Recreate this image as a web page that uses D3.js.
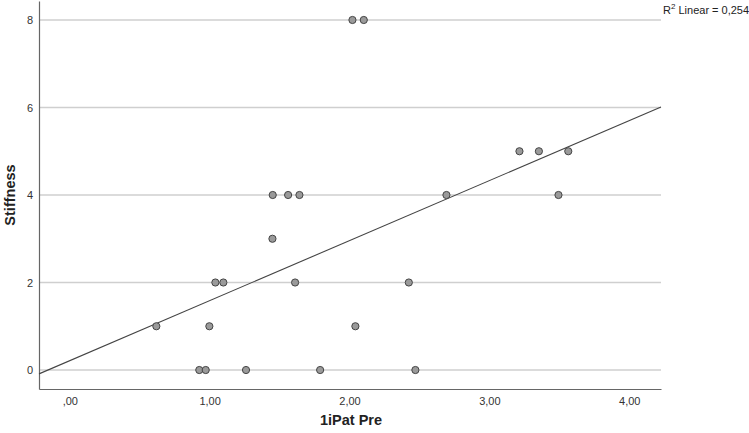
<!DOCTYPE html>
<html><head><meta charset="utf-8">
<script src="https://cdn.jsdelivr.net/npm/d3@7"></script>
<style>body{margin:0;background:#fff}svg{display:block}</style>
</head><body><svg id="c" width="749" height="433"></svg>
<script>
const xVals = [0.619,0.926,0.972,0.998,1.041,1.098,1.260,1.449,1.451,1.561,1.611,1.642,1.790,2.021,2.042,2.102,2.424,2.471,2.693,3.215,3.354,3.494,3.564];
const yVals = [1,0,0,1,2,2,0,3,4,4,2,4,0,8,1,8,2,0,4,5,5,4,5];
const xTicks = [0,1,2,3,4];
const yTicks = [0,2,4,6,8];
const xTitle = "1iPat Pre", yTitle = "Stiffness", r2Label = "Linear = 0,254";

const svg = d3.select("#c");
const L=39, R=661, T=1, B=389;
const x = d3.scaleLinear().domain([-0.22,4.227]).range([L,R]);
const y = d3.scaleLinear().domain([-0.434,8.434]).range([B,T]);
const fmt = v => d3.format(".2f")(v).replace(/^0/, "").replace(".", ",");
const font = "'Liberation Sans', Arial, sans-serif";

// gridlines
svg.append("g").selectAll("line").data(yTicks).join("line")
  .attr("x1",L).attr("x2",R).attr("y1",d=>y(d)).attr("y2",d=>y(d))
  .attr("stroke","#cfcfcf").attr("stroke-width",1.5);

// axes
const ya = svg.append("g").attr("transform",`translate(${L},0)`).call(d3.axisLeft(y).tickValues(yTicks).tickSize(0).tickPadding(6));
const xa = svg.append("g").attr("transform",`translate(0,${B})`).call(d3.axisBottom(x).tickValues(xTicks).tickFormat(fmt).tickSize(0).tickPadding(8));
[ya,xa].forEach(a=>{a.select(".domain").attr("stroke","#666").attr("stroke-width",1.2);
  a.selectAll("text").attr("font-family",font).attr("font-size",11).attr("fill","#333");});

// regression
const mx=d3.mean(xVals), my=d3.mean(yVals);
let sxy=0,sxx=0; xVals.forEach((v,i)=>{sxy+=(v-mx)*(yVals[i]-my);sxx+=(v-mx)*(v-mx);});
const b=sxy/sxx, a=my-b*mx;
const x0=x.domain()[0], x1=x.domain()[1];
svg.append("line").attr("x1",x(x0)).attr("y1",y(a+b*x0)).attr("x2",x(x1)).attr("y2",y(a+b*x1))
  .attr("stroke","#444").attr("stroke-width",1.1);

// points
svg.append("g").selectAll("circle").data(xVals.map((v,i)=>[v,yVals[i]])).join("circle")
  .attr("cx",d=>x(d[0])).attr("cy",d=>y(d[1])).attr("r",3.6)
  .attr("fill","#9a9a9a").attr("stroke","#444").attr("stroke-width",1);

// titles
svg.append("text").attr("x",351).attr("y",425).attr("text-anchor","middle")
  .attr("font-family",font).attr("font-size",14.5).attr("font-weight","bold").attr("fill","#222").text(xTitle);
svg.append("text").attr("transform",`translate(15,${y(4)}) rotate(-90)`).attr("text-anchor","middle")
  .attr("font-family",font).attr("font-size",14.5).attr("font-weight","bold").attr("fill","#222").text(yTitle);
const t = svg.append("text").attr("x",663).attr("y",14).attr("font-family",font).attr("font-size",11).attr("fill","#222");
t.append("tspan").text("R");
t.append("tspan").attr("dy",-5).attr("font-size",8).text("2");
t.append("tspan").attr("dy",5).text(" " + r2Label);
</script></body></html>
